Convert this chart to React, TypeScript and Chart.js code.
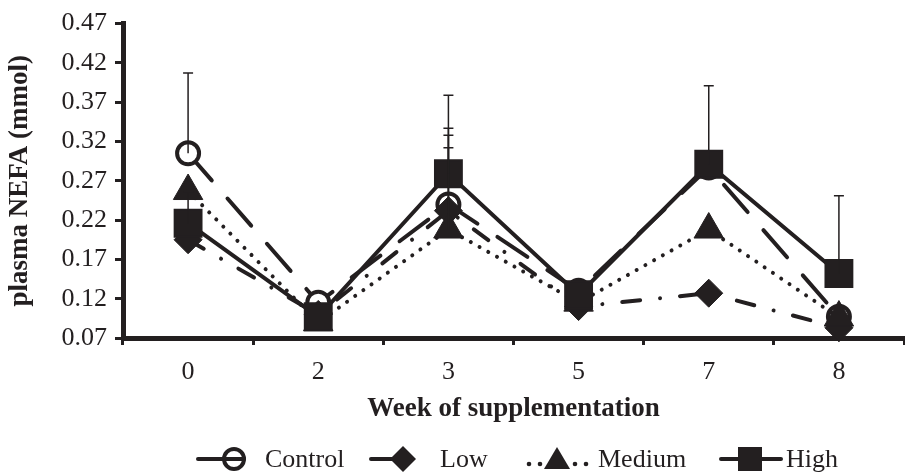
import React, { useEffect, useRef } from "react";
import { Chart, registerables } from "chart.js";

Chart.register(...registerables);

// ---- data ----
const weeks = ["0", "2", "3", "5", "7", "8"];
const yTickValues = [0.07, 0.12, 0.17, 0.22, 0.27, 0.32, 0.37, 0.42, 0.47];
const yTickLabels = ["0.07", "0.12", "0.17", "0.22", "0.27", "0.32", "0.37", "0.42", "0.47"];
const seriesNames = ["Control", "Low", "Medium", "High"];

const control = [0.305, 0.115, 0.24, 0.13, 0.287, 0.097];
const low = [0.195, 0.1, 0.232, 0.11, 0.127, 0.083];
const medium = [0.257, 0.09, 0.208, 0.115, 0.208, 0.096];
const high = [0.216, 0.097, 0.279, 0.125, 0.291, 0.152];

const controlErr = [0.102, 0, 0.097, 0, 0, 0];
const lowErr = [0, 0, 0.096, 0, 0, 0];
const mediumErr = [0, 0, 0.104, 0, 0, 0];
const highErr = [0.04, 0, 0.1, 0, 0.1, 0.099];

const INK = "#231f20";
const FONT = '"Liberation Serif", "Times New Roman", serif';

export default function App() {
  const ref = useRef<HTMLCanvasElement>(null);

  useEffect(() => {
    const canvas = ref.current as HTMLCanvasElement;
    const errs = [controlErr, lowErr, mediumErr, highErr];

    const errorBars = {
      id: "errorBars",
      afterDatasetsDraw(chart: any) {
        const ctx = chart.ctx;
        const ys = chart.scales.y;
        ctx.save();
        ctx.strokeStyle = INK;
        ctx.lineWidth = 1.5;
        chart.data.datasets.forEach((ds: any, di: number) => {
          const meta = chart.getDatasetMeta(di);
          meta.data.forEach((pt: any, i: number) => {
            const e = errs[di][i];
            if (!e) return;
            const top = ys.getPixelForValue(ds.data[i] + e);
            ctx.beginPath();
            ctx.moveTo(pt.x, pt.y);
            ctx.lineTo(pt.x, top);
            ctx.moveTo(pt.x - 5, top);
            ctx.lineTo(pt.x + 5, top);
            ctx.stroke();
          });
        });
        ctx.restore();
      },
    };

    const legendPlugin = {
      id: "customLegend",
      afterDraw(chart: any) {
        const ctx = chart.ctx;
        const y = 459;
        ctx.save();
        ctx.fillStyle = INK;
        ctx.strokeStyle = INK;
        ctx.lineCap = "round";
        ctx.font = `26px ${FONT}`;
        ctx.textBaseline = "middle";
        ctx.textAlign = "left";

        // Control
        ctx.lineWidth = 4;
        ctx.beginPath();
        ctx.arc(234, y, 10, 0, Math.PI * 2);
        ctx.fillStyle = "#fff";
        ctx.fill();
        ctx.stroke();
        ctx.beginPath();
        ctx.moveTo(198, y);
        ctx.lineTo(244, y);
        ctx.stroke();
        ctx.fillStyle = INK;
        ctx.fillText(seriesNames[0], 265, y + 1);

        // Low
        ctx.beginPath();
        ctx.moveTo(371, y);
        ctx.lineTo(403, y);
        ctx.stroke();
        ctx.beginPath();
        ctx.moveTo(403, y - 13);
        ctx.lineTo(416, y);
        ctx.lineTo(403, y + 13);
        ctx.lineTo(390, y);
        ctx.closePath();
        ctx.fill();
        ctx.fillText(seriesNames[1], 440, y + 1);

        // Medium
        [529, 540, 575, 586].forEach((dx) => {
          ctx.beginPath();
          ctx.arc(dx, y + 5, 2.3, 0, Math.PI * 2);
          ctx.fill();
        });
        ctx.beginPath();
        ctx.moveTo(557, y - 12);
        ctx.lineTo(570, y + 10);
        ctx.lineTo(544, y + 10);
        ctx.closePath();
        ctx.fill();
        ctx.fillText(seriesNames[2], 598, y + 1);

        // High
        ctx.beginPath();
        ctx.moveTo(721, y);
        ctx.lineTo(781, y);
        ctx.stroke();
        ctx.fillRect(738, y - 12, 24, 24);
        ctx.fillText(seriesNames[3], 786, y + 1);
        ctx.restore();
      },
    };

    const common = {
      borderColor: INK,
      borderWidth: 4,
      borderCapStyle: "round",
      pointBorderColor: INK,
      fill: false,
      tension: 0,
      clip: false,
    };

    const chart = new Chart(canvas, {
      type: "line",
      data: {
        labels: weeks,
        datasets: [
          {
            ...common,
            label: seriesNames[0],
            data: control,
            borderDash: [36, 24],
            pointStyle: "circle",
            pointRadius: 11,
            pointBorderWidth: 4,
            pointBackgroundColor: "#ffffff",
            order: 3,
          },
          {
            ...common,
            label: seriesNames[1],
            data: low,
            borderDash: [18, 20, 0.01, 20],
            pointStyle: "rectRot",
            pointRadius: 14,
            pointBorderWidth: 1,
            pointBackgroundColor: INK,
            order: 2,
          },
          {
            ...common,
            label: seriesNames[2],
            data: medium,
            borderDash: [0.01, 10],
            pointStyle: "triangle",
            pointRadius: 17,
            pointBorderWidth: 1,
            pointBackgroundColor: INK,
            order: 1,
          },
          {
            ...common,
            label: seriesNames[3],
            data: high,
            pointStyle: "rect",
            pointRadius: 19,
            pointBorderWidth: 2,
            pointBackgroundColor: INK,
            order: 0,
          },
        ],
      } as any,
      options: {
        responsive: false,
        animation: false,
        events: [],
        layout: { padding: { left: 0, top: 20, right: 14, bottom: 50 } },
        plugins: {
          legend: { display: false },
          tooltip: { enabled: false },
        },
        scales: {
          x: {
            type: "category",
            offset: true,
            grid: {
              offset: true,
              drawOnChartArea: false,
              drawTicks: true,
              tickLength: 7,
              lineWidth: 3,
              color: INK,
            },
            border: { display: true, width: 5, color: INK },
            ticks: {
              color: INK,
              font: { family: FONT, size: 26 },
              padding: 12,
              maxRotation: 0,
            },
            title: {
              display: true,
              text: "Week of supplementation",
              color: INK,
              font: { family: FONT, size: 27, weight: "bold" },
              padding: { top: 0, bottom: 0 },
            },
            afterFit(s: any) {
              s.height = 87;
            },
          },
          y: {
            min: 0.07,
            max: 0.47,
            afterBuildTicks(s: any) {
              s.ticks = yTickValues.map((v) => ({ value: v }));
            },
            ticks: {
              color: INK,
              font: { family: FONT, size: 26 },
              padding: 8,
              callback: (_v: any, i: number) => yTickLabels[i],
            },
            grid: {
              drawOnChartArea: false,
              drawTicks: true,
              tickLength: 8,
              lineWidth: 3,
              color: INK,
            },
            border: { display: true, width: 5, color: INK },
            title: {
              display: true,
              text: "plasma NEFA (mmol)",
              color: INK,
              font: { family: FONT, size: 27, weight: "bold" },
              padding: { top: 4, bottom: 0 },
            },
            afterFit(s: any) {
              s.width = 123;
            },
          },
        },
      } as any,
      plugins: [errorBars, legendPlugin],
    });

    return () => chart.destroy();
  }, []);

  return (
    <div
      style={{
        position: "fixed",
        left: 0,
        top: 0,
        width: 905,
        height: 475,
        overflow: "hidden",
        background: "#ffffff",
      }}
    >
      <canvas ref={ref} width={925} height={475} style={{ display: "block" }} />
    </div>
  );
}
